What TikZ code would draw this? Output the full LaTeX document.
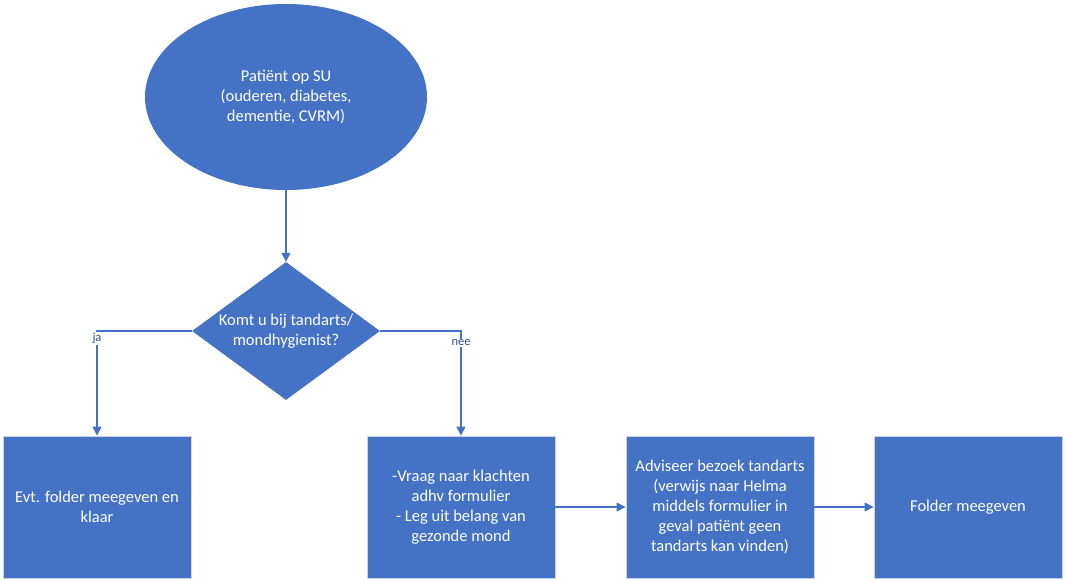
\documentclass[tikz,border=0pt]{standalone}
\usepackage{fontspec}
\setmainfont{Carlito}
\usetikzlibrary{shapes.geometric,arrows.meta}
\definecolor{vakblauw}{HTML}{4472C4}
\definecolor{randgrijs}{HTML}{C9D3E6}
\begin{document}
\begin{tikzpicture}[x=1pt,y=1pt]
\tikzset{every node/.style={font=\fontsize{16.5}{20}\selectfont,text=white,align=center}}
\tikzset{vak/.style={rectangle,fill=vakblauw,draw=randgrijs,line width=0.8pt,
                     minimum width=188pt,minimum height=142pt}}
\tikzset{pijl/.style={draw=vakblauw,line width=1.2pt,-{Triangle[length=9pt,width=9pt]}}}
\tikzset{keuze/.style={fill=white,text=vakblauw!70!black,font=\fontsize{12.5}{14}\selectfont,inner sep=1pt}}
%\tikzset{every node/.style={font=\sffamily}}
\useasboundingbox (0,0) rectangle (1065,-580);
\node[ellipse,fill=vakblauw,minimum width=282pt,minimum height=186pt] (start) at (286,-97)
    {Patiënt op SU\\(ouderen, diabetes,\\dementie, CVRM)};
\node[diamond,fill=vakblauw,minimum width=188pt,minimum height=138pt,inner sep=0pt,aspect=1.36] (vraag) at (286,-331)
    {Komt u bij tandarts/\\mondhygienist?};
\node[vak] (klaar) at (97,-507) {Evt. folder meegeven en\\klaar};
\node[vak] (klacht) at (461,-507) {-Vraag naar klachten\\adhv formulier\\- Leg uit belang van\\gezonde mond};
\node[vak] (advies) at (720,-507) {Adviseer bezoek tandarts\\(verwijs naar Helma\\middels formulier in\\geval patiënt geen\\tandarts kan vinden)};
\node[vak] (folder) at (968,-507) {Folder meegeven};
% verbindingen
\draw[pijl] (start) -- (vraag);
\draw[pijl] (vraag.west) -| (klaar.north) node[keuze,pos=0.535] {ja};
\draw[pijl] (vraag.east) -| (klacht.north) node[keuze,pos=0.557] {nee};
\draw[pijl] (klacht) -- (advies);
\draw[pijl] (advies) -- (folder);
\end{tikzpicture}
\end{document}
